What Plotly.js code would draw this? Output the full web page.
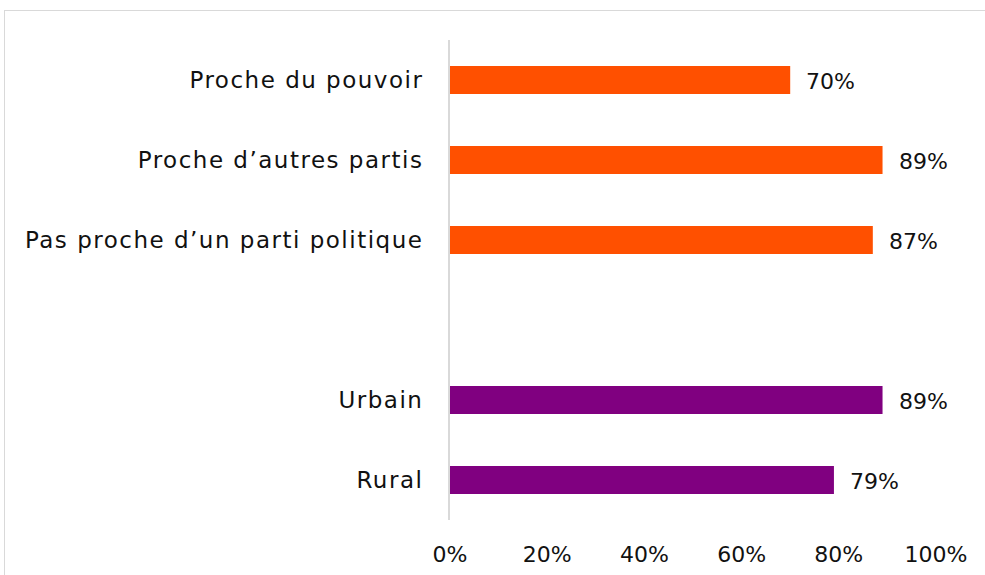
<!DOCTYPE html>
<html><head><meta charset="utf-8">
<script src="https://cdn.plot.ly/plotly-3.0.1.min.js"></script>
<style>
html,body{margin:0;padding:0;background:#fff;}
#frame{position:absolute;left:4px;top:10px;width:1000px;height:600px;border:1px solid #d9d9d9;box-sizing:border-box;}
#chart{position:absolute;left:0;top:0;width:985px;height:575px;}
#chart .ytick text{letter-spacing:1.5px;}
</style></head>
<body>
<div id="frame"></div>
<div id="chart"></div>
<script>
const categories = ["Proche du pouvoir", "Proche d\u2019autres partis", "Pas proche d\u2019un parti politique", " ", "Urbain", "Rural"];
const values = [0.70, 0.89, 0.87, null, 0.89, 0.79];
const labels = ["70%", "89%", "87%", "", "89%", "79%"];
const colors = ["#FF5000", "#FF5000", "#FF5000", "#FF5000", "#800080", "#800080"];
const xTicks = [0, 0.2, 0.4, 0.6, 0.8, 1.0];
const xTickLabels = ["0%", "20%", "40%", "60%", "80%", "100%"];

const font = "'DejaVu Sans', sans-serif";
const trace = {
  type: "bar", orientation: "h",
  y: categories, x: values,
  marker: {color: colors},
  width: 0.35,
  hoverinfo: "none"
};
const annotations = [];
categories.forEach((c, i) => {
  if (values[i] !== null) {
    annotations.push({x: values[i], y: c, xref: "x", yref: "y", text: labels[i],
      showarrow: false, xanchor: "left", yanchor: "middle", xshift: 14, yshift: -1,
      font: {family: font, size: 22, color: "#111111"}});
  }
});
const layout = {
  width: 985, height: 575,
  margin: {l: 450, r: 49, t: 40, b: 55},
  paper_bgcolor: "rgba(0,0,0,0)", plot_bgcolor: "rgba(0,0,0,0)",
  showlegend: false,
  font: {family: font, size: 22, color: "#111111"},
  xaxis: {range: [0, 1], tickvals: xTicks, ticktext: xTickLabels, showgrid: false,
    zeroline: false, showline: false, ticks: "", ticklabelstandoff: 19, fixedrange: true,
    tickfont: {family: font, size: 22, color: "#111111"}},
  yaxis: {type: "category", categoryorder: "array", categoryarray: categories,
    autorange: "reversed", showgrid: false, zeroline: false, showline: true,
    linecolor: "#d9d9d9", linewidth: 2, ticks: "", ticklabelstandoff: 20, fixedrange: true,
    tickfont: {family: font, size: 23, color: "#111111"}},
  annotations: annotations
};
Plotly.newPlot("chart", [trace], layout, {displayModeBar: false, staticPlot: true});
</script>
</body></html>
